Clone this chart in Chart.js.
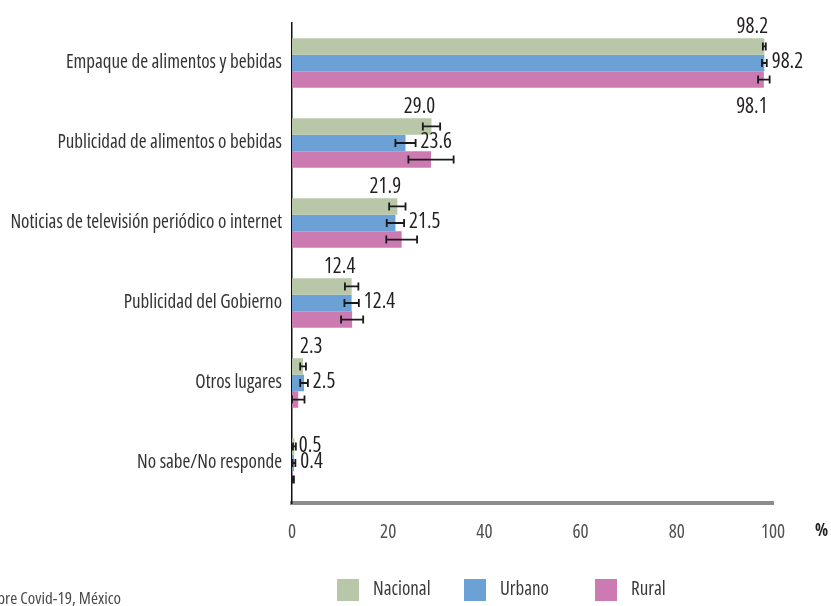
<!DOCTYPE html>
<html>
<head>
<meta charset="utf-8">
<script src="https://cdn.jsdelivr.net/npm/chart.js@4/dist/chart.umd.min.js"></script>
<style>
  html, body { margin: 0; padding: 0; background: #ffffff; }
  #wrap { position: relative; width: 831px; height: 606px; }
</style>
</head>
<body>
<div id="wrap"><canvas id="c" width="831" height="606"></canvas></div>
<script>
const categories = [
  'Empaque de alimentos y bebidas',
  'Publicidad de alimentos o bebidas',
  'Noticias de televisión periódico o internet',
  'Publicidad del Gobierno',
  'Otros lugares',
  'No sabe/No responde'
];
const seriesNames = ['Nacional', 'Urbano', 'Rural'];
const nacional = [98.2, 29.0, 21.9, 12.4, 2.3, 0.5];
const urbano   = [98.2, 23.6, 21.5, 12.4, 2.5, 0.4];
const rural    = [98.1, 28.9, 22.8, 12.5, 1.3, 0.1];
const nacionalErr = [0.3, 1.8, 1.7, 1.4, 0.6, 0.3];
const urbanoErr   = [0.5, 2.1, 1.8, 1.5, 0.8, 0.3];
const ruralErr    = [1.2, 4.7, 3.2, 2.3, 1.3, 0.3];
const nacionalLabels = ['98.2', '29.0', '21.9', '12.4', '2.3', '0.5'];
const urbanoLabels   = ['98.2', '23.6', '21.5', '12.4', '2.5', '0.4'];
const ruralLabels    = ['98.1', '', '', '', '', ''];
const xTicks = [0, 20, 40, 60, 80, 100];
const axisUnit = '%';
const sourceText = 'sobre Covid-19, México';

const colors = ['#b9c7a9', '#6ba1d5', '#cb7bb2'];
const FAMILY = '"Open Sans", "Roboto Condensed", sans-serif';
const CF = (size, bold) => 'condensed ' + (bold ? 'bold ' : '') + size + 'px ' + FAMILY;
const errs = [nacionalErr, urbanoErr, ruralErr];
const values = [nacional, urbano, rural];

const extras = {
  id: 'extras',
  afterDatasetsDraw(chart) {
    const ctx = chart.ctx;
    const xs = chart.scales.x;
    const area = chart.chartArea;
    ctx.save();
    // error bars
    ctx.strokeStyle = '#1a1a1a';
    ctx.lineWidth = 1.8;
    for (let d = 0; d < 3; d++) {
      const meta = chart.getDatasetMeta(d);
      meta.data.forEach((bar, j) => {
        const v = values[d][j], e = errs[d][j];
        const x1 = xs.getPixelForValue(Math.max(0, v - e));
        const x2 = xs.getPixelForValue(v + e);
        const y = bar.y;
        ctx.beginPath();
        ctx.moveTo(x1, y); ctx.lineTo(x2, y);
        ctx.moveTo(x1, y - 4); ctx.lineTo(x1, y + 4);
        ctx.moveTo(x2, y - 4); ctx.lineTo(x2, y + 4);
        ctx.stroke();
      });
    }
    // value labels
    ctx.fillStyle = '#231f20';
    ctx.font = CF(21);
    const mN = chart.getDatasetMeta(0), mU = chart.getDatasetMeta(1), mR = chart.getDatasetMeta(2);
    nacionalLabels.forEach((t, j) => {
      if (!t) return;
      const bar = mN.data[j];
      const v = nacional[j];
      const w = ctx.measureText(t).width;
      if (v < 1) {
        ctx.textAlign = 'left'; ctx.textBaseline = 'middle';
        ctx.fillText(t, xs.getPixelForValue(v + nacionalErr[j]) + 3, bar.y);
      } else {
        let cx = xs.getPixelForValue(v) - 12;
        if (cx - w / 2 < area.left + 8) cx = area.left + 8 + w / 2;
        ctx.textAlign = 'center'; ctx.textBaseline = 'alphabetic';
        ctx.fillText(t, cx, bar.y - bar.height / 2 - 5);
      }
    });
    urbanoLabels.forEach((t, j) => {
      if (!t) return;
      const bar = mU.data[j];
      ctx.textAlign = 'left'; ctx.textBaseline = 'middle';
      ctx.fillText(t, xs.getPixelForValue(urbano[j] + urbanoErr[j]) + 5, bar.y - 1);
    });
    ruralLabels.forEach((t, j) => {
      if (!t) return;
      const bar = mR.data[j];
      ctx.textAlign = 'center'; ctx.textBaseline = 'alphabetic';
      ctx.fillText(t, xs.getPixelForValue(rural[j]) - 12, bar.y + bar.height / 2 + 25);
    });
    ctx.restore();
  },
  afterDraw(chart) {
    const ctx = chart.ctx;
    const area = chart.chartArea;
    ctx.save();
    // unit symbol
    ctx.fillStyle = '#231f20';
    ctx.font = CF(17, true);
    ctx.textAlign = 'left'; ctx.textBaseline = 'middle';
    ctx.fillText(axisUnit, area.right + 42, area.bottom + 28);
    // legend
    const lx = [area.left + 45, area.left + 172, area.left + 303];
    const ly = area.bottom + 76;
    ctx.font = CF(19);
    seriesNames.forEach((n, i) => {
      ctx.fillStyle = colors[i];
      ctx.fillRect(lx[i], ly, 22, 22);
      ctx.fillStyle = '#3a3a3a';
      ctx.textAlign = 'left'; ctx.textBaseline = 'middle';
      ctx.fillText(n, lx[i] + 36, ly + 11);
    });
    // source note (cut at left edge)
    ctx.font = CF(17);
    ctx.fillStyle = '#4a4a4a';
    ctx.textAlign = 'right'; ctx.textBaseline = 'middle';
    ctx.fillText(sourceText, 121, ly + 20);
    ctx.restore();
  }
};

new Chart(document.getElementById('c'), {
  type: 'bar',
  data: {
    labels: categories,
    datasets: seriesNames.map((n, i) => ({
      label: n,
      data: values[i],
      backgroundColor: colors[i],
      borderWidth: 0,
      categoryPercentage: 0.62,
      barPercentage: 1.0
    }))
  },
  options: {
    indexAxis: 'y',
    responsive: false,
    animation: false,
    layout: { padding: { top: 23, right: 58, bottom: 60, left: 0 } },
    plugins: { legend: { display: false }, tooltip: { enabled: false } },
    scales: {
      x: {
        min: 0, max: 100,
        afterBuildTicks: (s) => { s.ticks = xTicks.map(v => ({ value: v })); },
        afterFit: (s) => { s.height = 43; },
        grid: { display: false, drawTicks: false },
        border: { display: true, color: '#8c8c8c', width: 4 },
        ticks: { padding: 18, color: '#505050', font: { family: FAMILY, weight: 'condensed', size: 19 } }
      },
      y: {
        afterFit: (s) => { s.width = 292; },
        grid: { display: false, drawTicks: false },
        border: { display: true, color: '#111111', width: 1.5 },
        ticks: { padding: 10, color: '#333333', font: { family: FAMILY, weight: 'condensed', size: 19 } }
      }
    }
  },
  plugins: [extras]
});
</script>
</body>
</html>
